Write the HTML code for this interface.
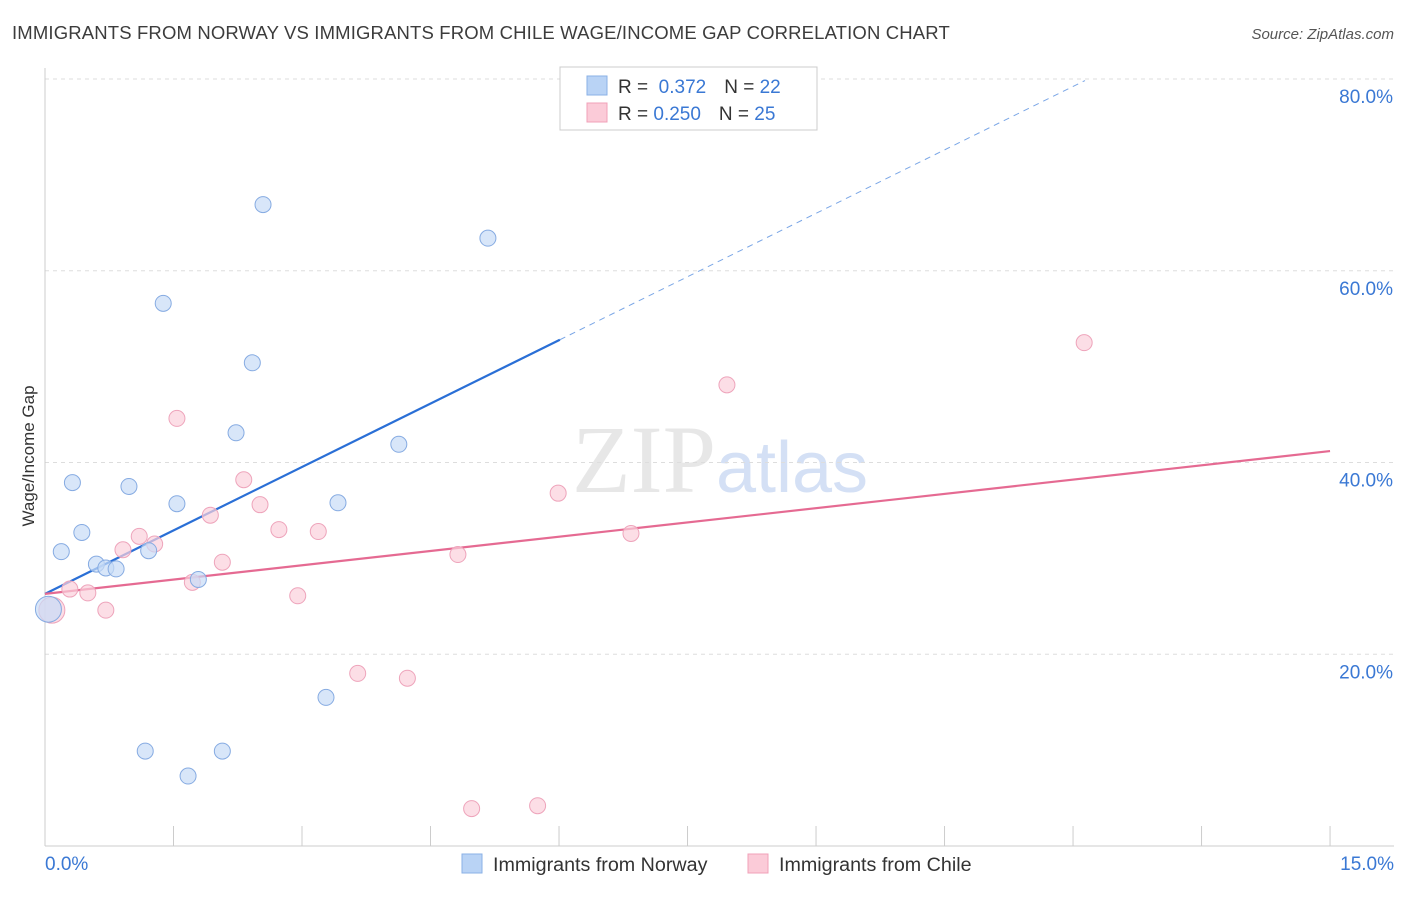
<!DOCTYPE html>
<html><head><meta charset="utf-8"><style>
body{margin:0;background:#fff;font-family:"Liberation Sans",sans-serif;}
svg text{font-family:"Liberation Sans",sans-serif;}
</style></head><body>
<svg id="chart" width="1406" height="892" xmlns="http://www.w3.org/2000/svg">
<text x="12" y="39" font-size="18.5" letter-spacing="0.15" fill="#3c3c3c">IMMIGRANTS FROM NORWAY VS IMMIGRANTS FROM CHILE WAGE/INCOME GAP CORRELATION CHART</text>
<text x="1394" y="39" font-size="15" fill="#555" font-style="italic" text-anchor="end">Source: ZipAtlas.com</text>
<text x="720" y="492" font-size="96" text-anchor="middle" fill="#d8d8d8" opacity="0.6"><tspan font-family="Liberation Serif">ZIP</tspan><tspan fill="#b9cdef" font-size="72">atlas</tspan></text>
<g id="grid"></g>
<g id="axes"></g>
<g id="lines"></g>
<g id="pts"></g>
<text transform="translate(34,456) rotate(-90)" font-size="17" fill="#333" text-anchor="middle">Wage/Income Gap</text>
<g>
<rect x="560" y="67" width="257" height="63" fill="#fff" stroke="#ccc"/>
<rect x="587" y="76" width="20" height="19" fill="#b9d3f5" stroke="#8ab0e6"/>
<rect x="587" y="103" width="20" height="19" fill="#fbcbd8" stroke="#f0a0b8"/>
<text x="618" y="93" font-size="19" fill="#333">R = <tspan fill="#3a78d4">&#160;0.372</tspan><tspan dx="18">N = </tspan><tspan fill="#3a78d4">22</tspan></text>
<text x="618" y="120" font-size="19" fill="#333">R = <tspan fill="#3a78d4">0.250</tspan><tspan dx="18">N = </tspan><tspan fill="#3a78d4">25</tspan></text>
</g>
<g>
<rect x="462" y="854" width="20" height="19" fill="#b9d3f5" stroke="#8ab0e6"/>
<text x="493" y="871" font-size="19.7" fill="#333">Immigrants from Norway</text>
<rect x="748" y="854" width="20" height="19" fill="#fbcbd8" stroke="#f0a0b8"/>
<text x="779" y="871" font-size="19.7" fill="#333">Immigrants from Chile</text>
</g>
</svg>
<script>
const yTicks=[20,40,60,80];
const xTickLabels=["0.0%","15.0%"];
const norwayX=[2.545,5.17,1.38,2.42,2.23,4.13,0.32,0.98,1.54,3.42,0.43,0.19,1.21,0.60,0.71,0.83,1.79,0.04,3.28,1.17,2.07,1.67];
const norwayY=[66.9,63.4,56.6,50.4,43.1,41.9,37.9,37.5,35.7,35.8,32.7,30.7,30.8,29.4,29.0,28.9,27.8,24.7,15.5,9.9,9.9,7.3];
const chileX=[12.13,7.96,1.54,2.32,5.99,2.51,1.93,1.10,2.73,3.19,6.84,1.28,0.91,4.82,2.07,1.72,0.29,0.50,2.95,0.71,0.08,3.65,4.23,4.98,5.75];
const chileY=[52.5,48.1,44.6,38.2,36.8,35.6,34.5,32.3,33.0,32.8,32.6,31.5,30.9,30.4,29.6,27.5,26.8,26.4,26.1,24.6,24.6,18.0,17.5,3.9,4.2];
const norwayTrend=[26.3,4.41];
const chileTrend=[26.3,0.993];
const NS="http://www.w3.org/2000/svg";
const X=v=>45+v*85.67, Y=v=>846-v*9.5875;
function mk(tag,attrs,parent){const e=document.createElementNS(NS,tag);for(const k in attrs)e.setAttribute(k,attrs[k]);document.getElementById(parent).appendChild(e);return e;}
yTicks.forEach(t=>{
 const l=mk('line',{x1:45,x2:1394,y1:Y(t),y2:Y(t),stroke:'#ddd','stroke-dasharray':'4,4'},'grid');
 
 
 const tx=mk('text',{x:1393,y:Y(t)+24,'font-size':19,fill:'#3a78d4','text-anchor':'end'},'grid');
 tx.textContent=t.toFixed(1)+'%';
 
 
});
mk('line',{x1:45,x2:45,y1:68,y2:846,stroke:'#ccc'},'axes');
mk('line',{x1:45,x2:1394,y1:846,y2:846,stroke:'#ccc'},'axes');
for(let i=1;i<=10;i++){const t=mk('line',{x1:X(i*1.5),x2:X(i*1.5),y1:826,y2:846,stroke:'#ccc'},'axes');}
[[0,'start',45],[15,'end',1394]].forEach((d,i)=>{const t=mk('text',{x:d[2],y:870,'font-size':19,fill:'#3a78d4','text-anchor':d[1]},'axes');t.textContent=xTickLabels[i];});
function pts(xs,ys,fill,stroke,name){xs.forEach((x,i)=>{const big=x<0.1;const c=mk('circle',{cx:X(x),cy:Y(ys[i]),r:big?13:8,fill:fill,'fill-opacity':0.7,stroke:stroke},'pts');});}
const nl=mk('line',{x1:X(0),y1:Y(norwayTrend[0]),x2:X(6.01),y2:Y(norwayTrend[0]+norwayTrend[1]*6.01),stroke:'#2a6fd6','stroke-width':2.2},'lines');

const nd=mk('line',{x1:X(6.01),y1:Y(norwayTrend[0]+norwayTrend[1]*6.01),x2:X(12.14),y2:Y(norwayTrend[0]+norwayTrend[1]*12.14),stroke:'#7aa6e6','stroke-width':1,'stroke-dasharray':'6,5'},'lines');

const cl=mk('line',{x1:X(0),y1:Y(chileTrend[0]),x2:X(15),y2:Y(chileTrend[0]+chileTrend[1]*15),stroke:'#e56a92','stroke-width':2.2},'lines');

pts(chileX,chileY,'#fbd0dc','#eea4bb','chile-point');
pts(norwayX,norwayY,'#c7dcf7','#86abe2','norway-point');
</script>
</body></html>
